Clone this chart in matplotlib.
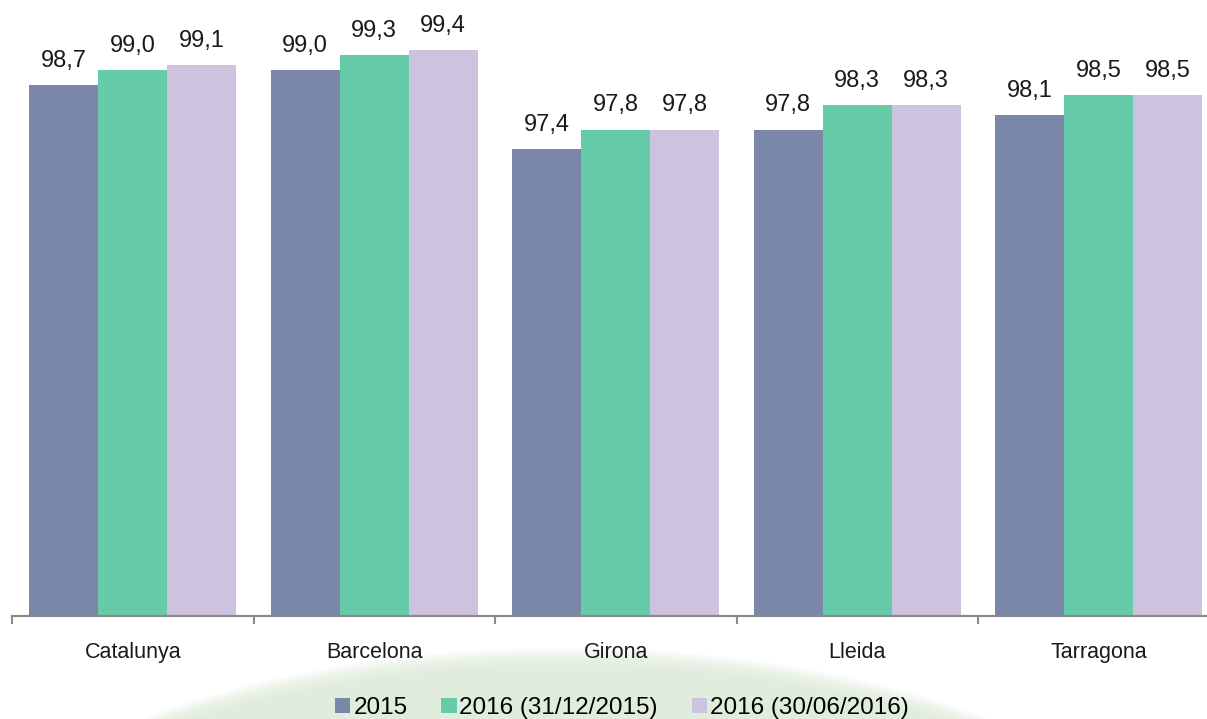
import numpy as np
import matplotlib.pyplot as plt
from matplotlib.patches import Ellipse

plt.rcParams['font.family'] = ['Liberation Sans', 'DejaVu Sans']

# percentatges per territori
territoris = ['Catalunya', 'Barcelona', 'Girona', 'Lleida', 'Tarragona']
series = ['2015', '2016 (31/12/2015)', '2016 (30/06/2016)']
v2015 = [98.7, 99.0, 97.4, 97.8, 98.1]
v2016_dic = [99.0, 99.3, 97.8, 98.3, 98.5]
v2016_jun = [99.1, 99.4, 97.8, 98.3, 98.5]
colors = ['#7b87a8', '#66cba8', '#cdc3de']

W, H = 1207, 719
fig = plt.figure(figsize=(W / 100, H / 100), dpi=100)

# marca d'aigua verda de fons, amb la vora difuminada
for k in range(8):
    shrink = k * 5
    fig.add_artist(Ellipse((565 / W, 1 - 948 / H), (1310 - shrink) / W,
                           (600 - shrink) / H, transform=fig.transFigure,
                           color='#d6e9d2', alpha=0.14, zorder=-1, lw=0))

ax = fig.add_axes([12 / W, 1 - 616 / H, 1207.5 / W, (616 - 20.3) / H])
ax.patch.set_alpha(0)

x = np.arange(len(territoris))
w = 1 / 3.5
for i, (vals, c) in enumerate(zip([v2015, v2016_dic, v2016_jun], colors)):
    pos = x + (i - 1) * w
    ax.bar(pos, vals, width=w, color=c, label=series[i], zorder=2)
    for xp, v in zip(pos, vals):
        ax.annotate(f"{v:.1f}".replace('.', ','), xy=(xp, v),
                    xytext=(0, 13), textcoords='offset points',
                    ha='center', va='baseline', fontsize=17, color='#1a1a1a')

ax.set_xlim(-0.5, 4.5)
ax.set_ylim(88, 100)

for s in ['top', 'right', 'left']:
    ax.spines[s].set_visible(False)
ax.spines['bottom'].set_color('#8a8a8a')
ax.spines['bottom'].set_linewidth(1.6)
ax.set_yticks([])

ax.set_xticks(x)
ax.set_xticklabels(territoris, fontsize=15.5, color='#1a1a1a')
ax.tick_params(axis='x', which='major', length=0, pad=19)
ax.set_xticks(np.arange(-0.5, 5, 1), minor=True)
ax.tick_params(axis='x', which='minor', length=6, width=1.5, color='#8a8a8a')

ax.legend(loc='center', bbox_to_anchor=(622 / W, 1 - 708 / H),
          bbox_transform=fig.transFigure, ncol=3, frameon=False,
          fontsize=17.5, handlelength=0.62, handleheight=0.55,
          handletextpad=0.12, columnspacing=1.4, borderpad=0)

fig.savefig('out.png', dpi=100)
